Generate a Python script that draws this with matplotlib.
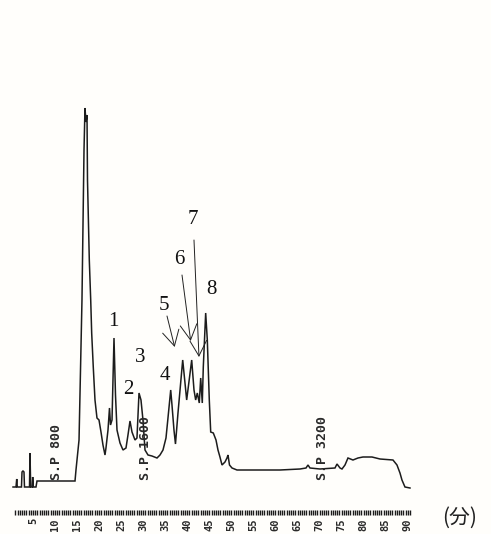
import numpy as np
import matplotlib
matplotlib.use("Agg")
import matplotlib.pyplot as plt

# retention time (min) and detector signal (arbitrary units)
time_min = [
    0.48, 1.16, 1.32, 1.45, 2.40, 2.52, 2.74, 2.97, 3.08, 4.22, 4.33, 4.49,
    4.85, 4.94, 5.08, 5.69, 5.92, 14.54, 14.76, 15.45, 16.12, 16.58, 16.80,
    17.03, 17.26, 17.37, 17.78, 18.10, 18.32, 18.68, 19.07, 19.52, 19.98,
    20.43, 20.88, 21.34, 21.56, 22.02, 22.36, 22.59, 22.93, 23.15, 23.38,
    23.72, 24.06, 24.74, 25.42, 26.10, 26.55, 27.01, 27.46, 28.14, 28.59,
    29.05, 29.50, 29.95, 30.41, 31.09, 31.99, 33.13, 33.81, 34.49, 35.17,
    35.62, 36.24, 36.53, 36.98, 37.32, 37.89, 38.96, 39.48, 39.86, 40.23,
    41.00, 41.52, 41.90, 42.27, 42.72, 43.04, 43.40, 43.63, 44.17, 44.54,
    44.99, 45.31, 45.90, 46.51, 46.96, 47.41, 47.87, 48.55, 49.00, 49.23,
    49.57, 50.14, 51.27, 54.22, 61.02, 65.56, 66.92, 67.37, 67.82, 70.09,
    73.49, 73.95, 74.63, 75.08, 75.76, 76.44, 77.57, 78.71, 79.84, 81.88,
    83.70, 86.64, 87.55, 88.23, 88.68, 89.36, 90.50,
]
signal = [
    -5, -5, 3, -5, -5, 10, 11, 10, -5, -5, 29, -5,
    -5, 5, -5, -5, 1, 1, 12, 42, 182, 332, 374,
    360, 367, 302, 222, 182, 149, 115, 82, 64, 62,
    50, 37, 27, 34, 52, 74, 57, 62, 102, 144,
    87, 52, 39, 32, 34, 47, 61, 50, 42, 44,
    89, 82, 62, 32, 27, 26, 24, 27, 32, 44,
    64, 92, 77, 52, 38, 69, 122, 99, 82, 95,
    122, 92, 82, 89, 79, 104, 79, 115, 169, 142,
    82, 50, 49, 42, 32, 25, 17, 20, 24, 27,
    17, 14, 12, 12, 12, 13, 14, 17, 14, 13,
    14, 18, 14, 13, 17, 24, 22, 24, 25, 25,
    23, 22, 17, 9, 2, -5, -6,
]

# peak numbers and where they sit
peak_labels = ["1", "2", "3", "4", "5", "6", "7", "8"]
peak_label_t = [23.16, 26.55, 29.27, 34.94, 34.71, 38.12, 41.29, 45.37]
peak_label_s = [160, 92, 124, 107, 177, 222, 263, 192]

# arrows for the crowded peaks 5, 6, 7 (tail -> tip)
arrow_tail_t = [35.40, 38.80, 41.52]
arrow_tail_s = [166, 207, 242]
arrow_tip_t = [37.14, 40.77, 42.65]
arrow_tip_s = [135, 141, 125]

# attenuation marks printed by the recorder
sp_labels = ["S.P 800", "S.P 1600", "S.P 3200"]
sp_t = [10.45, 30.63, 70.55]

tick_pos = np.arange(1, 90.6, 0.5)
label_every = 5

fig = plt.figure(figsize=(4.91, 5.34), dpi=100, facecolor="#fffefb")
ax = fig.add_axes([0, 0, 1, 1])
ax.set_facecolor("none")
ax.set_xlim(-2.47, 108.87)
ax.set_ylim(-52, 482)

ax.plot(time_min, signal, color="#1c1c1c", lw=1.1, solid_joinstyle="miter")

for lab, t, s in zip(peak_labels, peak_label_t, peak_label_s):
    ax.text(t, s, lab, family="Liberation Serif", fontsize=15,
            ha="center", va="center", color="#111111")

for t0, s0, t1, s1 in zip(arrow_tail_t, arrow_tail_s, arrow_tip_t, arrow_tip_s):
    ax.annotate("", xy=(t1, s1), xytext=(t0, s0),
                arrowprops=dict(arrowstyle="->,head_length=1.1,head_width=0.6",
                                mutation_scale=10, lw=0.7, color="#222222",
                                shrinkA=0, shrinkB=0))

for lab, t in zip(sp_labels, sp_t):
    ax.text(t, 2, lab, family="DejaVu Sans Mono", fontweight="bold",
            fontsize=9.5, rotation=90, ha="center", va="bottom",
            color="#2a2a2a")

# the time axis of the recorder paper
for side in ["left", "right", "top"]:
    ax.spines[side].set_visible(False)
ax.spines["bottom"].set_position(("data", -28))
ax.spines["bottom"].set_color("none")
ax.set_yticks([])
ax.set_xticks(tick_pos)
ax.set_xticklabels([f"{int(p)}" if p % label_every == 0 else "" for p in tick_pos],
                   rotation=90, family="DejaVu Sans Mono", fontweight="bold",
                   fontsize=7.5, color="#2a2a2a")
ax.tick_params(axis="x", direction="out", length=3.6, width=1.0,
               color="#1c1c1c", pad=2.2)

ax.text(101.8, -36, "(分)", family=["Noto Sans CJK JP", "DejaVu Sans"],
        fontsize=15, ha="center", va="center", color="#222222")

fig.savefig("out.png", dpi=100, facecolor=fig.get_facecolor())
